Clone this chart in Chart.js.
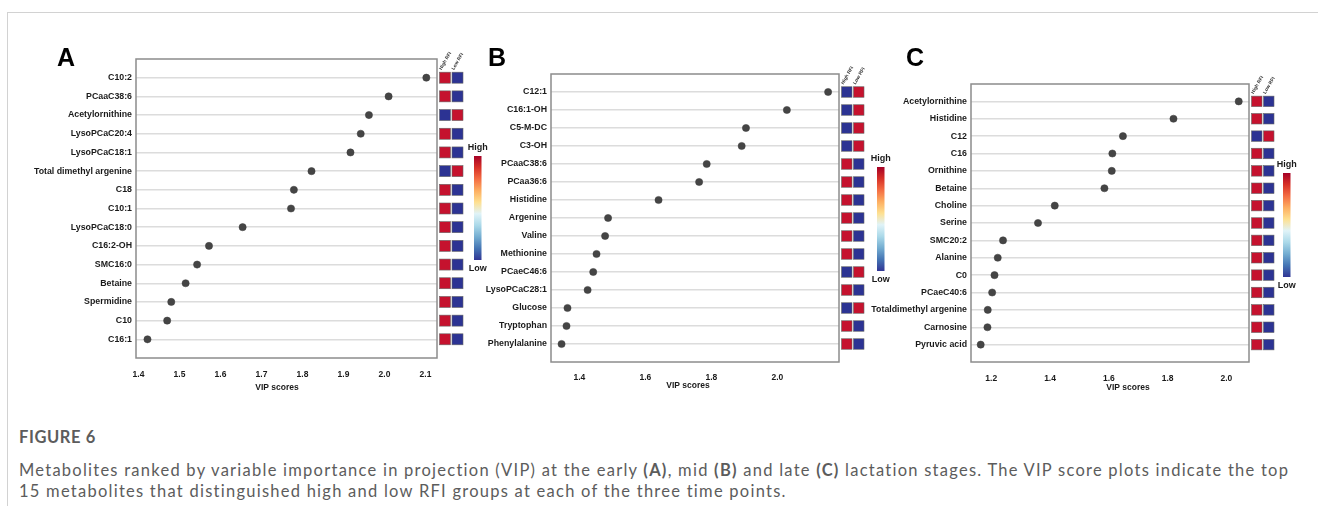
<!DOCTYPE html>
<html>
<head>
<meta charset="utf-8">
<script src="https://cdn.jsdelivr.net/npm/chart.js@4.4.0/dist/chart.umd.min.js"></script>
<style>
  body { margin: 0; background: #fff; width: 1318px; height: 506px; overflow: hidden; position: relative; }
  .frame { position: absolute; left: 7px; top: 12px; right: 0; bottom: 0;
           border-top: 1.5px solid #d2d2d2; border-left: 1.5px solid #d2d2d2; }
  canvas { position: absolute; top: 0; }
  #chartA { left: 0; }
  #chartB { left: 480px; }
  #chartC { left: 860px; }
  .caption { position: absolute; left: 19px; top: 427px; font-family: Lato, sans-serif;
             color: #5c5c5c; font-size: 16.5px; line-height: 21px; letter-spacing: 1.25px; }
  .caption .fig { font-weight: 700; font-size: 16.5px; line-height: 20px; margin-bottom: 13px; letter-spacing: 0.6px; }
  .caption b { font-weight: 700; }
</style>
</head>
<body>
<div class="frame"></div>
<canvas id="chartA" width="500" height="400"></canvas>
<canvas id="chartB" width="420" height="400"></canvas>
<canvas id="chartC" width="458" height="400"></canvas>
<div class="caption">
  <div class="fig">FIGURE 6</div>
  Metabolites ranked by variable importance in projection (VIP) at the early <b>(A)</b>, mid <b>(B)</b> and late <b>(C)</b> lactation stages. The VIP score plots indicate the top<br>
  15 metabolites that distinguished high and low RFI groups at each of the three time points.
</div>
<script>
// panel A - early lactation
const LABELS_A = ['C10:2', 'PCaaC38:6', 'Acetylornithine', 'LysoPCaC20:4', 'LysoPCaC18:1',
  'Total dimethyl argenine', 'C18', 'C10:1', 'LysoPCaC18:0', 'C16:2-OH', 'SMC16:0',
  'Betaine', 'Spermidine', 'C10', 'C16:1'];
const VIP_A = [2.102, 2.010, 1.962, 1.942, 1.917, 1.822, 1.779, 1.772, 1.654, 1.572,
  1.543, 1.515, 1.480, 1.470, 1.422];
const HIGH_RFI_A = [1, 1, 0, 1, 1, 0, 1, 1, 1, 1, 1, 1, 1, 1, 1];
const LOW_RFI_A  = [0, 0, 1, 0, 0, 1, 0, 0, 0, 0, 0, 0, 0, 0, 0];
const TICKS_A = [1.4, 1.5, 1.6, 1.7, 1.8, 1.9, 2.0, 2.1];

// panel B - mid lactation
const LABELS_B = ['C12:1', 'C16:1-OH', 'C5-M-DC', 'C3-OH', 'PCaaC38:6', 'PCaa36:6',
  'Histidine', 'Argenine', 'Valine', 'Methionine', 'PCaeC46:6', 'LysoPCaC28:1',
  'Glucose', 'Tryptophan', 'Phenylalanine'];
const VIP_B = [2.154, 2.029, 1.905, 1.892, 1.786, 1.763, 1.640, 1.487, 1.478, 1.452,
  1.442, 1.425, 1.364, 1.361, 1.346];
const HIGH_RFI_B = [0, 0, 0, 0, 1, 1, 1, 1, 1, 1, 0, 1, 0, 1, 1];
const LOW_RFI_B  = [1, 1, 1, 1, 0, 0, 0, 0, 0, 0, 1, 0, 1, 0, 0];
const TICKS_B = [1.4, 1.6, 1.8, 2.0];

// panel C - late lactation
const LABELS_C = ['Acetylornithine', 'Histidine', 'C12', 'C16', 'Ornithine', 'Betaine',
  'Choline', 'Serine', 'SMC20:2', 'Alanine', 'C0', 'PCaeC40:6',
  'Totaldimethyl argenine', 'Carnosine', 'Pyruvic acid'];
const VIP_C = [2.042, 1.820, 1.648, 1.612, 1.610, 1.585, 1.416, 1.359, 1.240, 1.222,
  1.211, 1.203, 1.188, 1.187, 1.164];
const HIGH_RFI_C = [1, 1, 0, 1, 1, 1, 1, 1, 1, 1, 1, 1, 1, 1, 1];
const LOW_RFI_C  = [0, 0, 1, 0, 0, 0, 0, 0, 0, 0, 0, 0, 0, 0, 0];
const TICKS_C = [1.2, 1.4, 1.6, 1.8, 2.0];

const GROUPS = ['High RFI', 'Low RFI'];

const RED = '#c5122e';
const BLUE = '#2c3393';
const TXT = '#1a1a1a';
const FONT = '"Liberation Sans", Arial, sans-serif';

// draws panel letter, plot frame, axis title, the High/Low RFI squares and the colour key
const panelDecor = {
  id: 'panelDecor',
  afterDatasetsDraw(chart, args, opts) {
    const { ctx, chartArea: ca } = chart;
    const y = chart.scales.y;
    ctx.save();

    // frame round plot area
    ctx.strokeStyle = '#8c8c8c';
    ctx.lineWidth = 1.5;
    ctx.strokeRect(ca.left, ca.top, ca.right - ca.left, ca.bottom - ca.top);

    // panel letter
    ctx.fillStyle = '#000';
    ctx.font = 'bold 25px ' + FONT;
    ctx.textAlign = 'left';
    ctx.textBaseline = 'alphabetic';
    ctx.fillText(opts.letter, opts.letterX, 66);

    // x axis title
    ctx.fillStyle = TXT;
    ctx.font = 'bold 8.5px ' + FONT;
    ctx.textAlign = 'center';
    ctx.textBaseline = 'middle';
    ctx.fillText('VIP scores', opts.titleX, opts.titleY);

    // heat squares
    const sz = opts.sq;
    const cols = [opts.high, opts.low];
    cols.forEach((vals, c) => {
      const x0 = ca.right + 2.5 + c * (sz + 1.5);
      vals.forEach((v, i) => {
        const yc = y.getPixelForValue(i);
        ctx.fillStyle = v ? RED : BLUE;
        ctx.fillRect(x0, yc - sz / 2, sz, sz);
        ctx.strokeStyle = '#666';
        ctx.lineWidth = 0.6;
        ctx.strokeRect(x0, yc - sz / 2, sz, sz);
      });
      // rotated group label
      const top0 = y.getPixelForValue(0) - sz / 2;
      ctx.save();
      ctx.translate(x0 + 2, top0 - 2);
      ctx.rotate(-Math.PI / 3);
      ctx.fillStyle = '#333';
      ctx.font = 'bold 4.8px ' + FONT;
      ctx.textAlign = 'left';
      ctx.textBaseline = 'alphabetic';
      ctx.fillText(GROUPS[c], 0, 0);
      ctx.restore();
    });

    // colour key
    const bx = ca.right + opts.barDx, bt = ca.top + opts.barDy, bh = 104, bw = 7.5;
    const g = ctx.createLinearGradient(0, bt, 0, bt + bh);
    const stops = ['#a50026', '#d73027', '#f46d43', '#fdae61', '#fee090',
                   '#e0f3f8', '#abd9e9', '#74add1', '#4575b4', '#313695'];
    stops.forEach((s, k) => g.addColorStop(k / (stops.length - 1), s));
    ctx.fillStyle = g;
    ctx.fillRect(bx, bt, bw, bh);
    ctx.fillStyle = TXT;
    ctx.font = 'bold 9px ' + FONT;
    ctx.textAlign = 'center';
    ctx.textBaseline = 'middle';
    ctx.fillText('High', bx + bw / 2, bt - 8);
    ctx.fillText('Low', bx + bw / 2, bt + bh + 9);

    ctx.restore();
  }
};

function makePanel(id, cfg) {
  const points = cfg.vip.map((v, i) => ({ x: v, y: i }));
  return new Chart(document.getElementById(id), {
    type: 'scatter',
    data: {
      datasets: [{
        data: points,
        backgroundColor: '#454545',
        borderColor: '#3a3a3a',
        borderWidth: 0.5,
        pointRadius: 3.6
      }]
    },
    options: {
      responsive: false,
      animation: false,
      devicePixelRatio: 1,
      layout: { padding: { left: 0, top: cfg.top, right: cfg.right, bottom: 0 } },
      plugins: {
        legend: { display: false },
        tooltip: { enabled: false },
        panelDecor: cfg.decor
      },
      scales: {
        x: {
          type: 'linear',
          min: cfg.xmin,
          max: cfg.xmax,
          afterBuildTicks: (axis) => { axis.ticks = cfg.ticks.map(v => ({ value: v })); },
          afterFit: (scale) => { scale.height = cfg.xh; },
          grid: { display: false, drawTicks: false },
          border: { display: false },
          ticks: {
            color: TXT,
            padding: cfg.tickPad,
            font: { family: FONT, size: 8.5, weight: 'bold' },
            callback: (v) => Number(v).toFixed(1)
          }
        },
        y: {
          type: 'linear',
          reverse: true,
          min: -1,
          max: 15,
          afterBuildTicks: (axis) => { axis.ticks = cfg.labels.map((_, i) => ({ value: i })); },
          afterFit: (scale) => { scale.width = cfg.yw; },
          grid: { color: '#dcdcdc', lineWidth: 1.5, drawTicks: false },
          border: { display: false },
          ticks: {
            color: TXT,
            padding: 4,
            font: { family: FONT, size: 8.8, weight: 'bold' },
            callback: (v) => cfg.labels[v]
          }
        }
      }
    },
    plugins: [panelDecor]
  });
}

makePanel('chartA', {
  labels: LABELS_A, vip: VIP_A, ticks: TICKS_A,
  xmin: 1.394, xmax: 2.128,
  yw: 136, top: 59, right: 63, xh: 42, tickPad: 12,
  decor: { letter: 'A', letterX: 57, titleX: 277, titleY: 388,
           high: HIGH_RFI_A, low: LOW_RFI_A, sq: 11, barDx: 37, barDy: 97 }
});

makePanel('chartB', {
  labels: LABELS_B, vip: VIP_B, ticks: TICKS_B,
  xmin: 1.314, xmax: 2.187,
  yw: 71, top: 74, right: 61, xh: 38, tickPad: 11,
  decor: { letter: 'B', letterX: 8, titleX: 208, titleY: 386,
           high: HIGH_RFI_B, low: LOW_RFI_B, sq: 10.5, barDx: 38, barDy: 93 }
});

makePanel('chartC', {
  labels: LABELS_C, vip: VIP_C, ticks: TICKS_C,
  xmin: 1.131, xmax: 2.077,
  yw: 111, top: 84, right: 69, xh: 38, tickPad: 12,
  decor: { letter: 'C', letterX: 46, titleX: 268, titleY: 388,
           high: HIGH_RFI_C, low: LOW_RFI_C, sq: 10.5, barDx: 34, barDy: 89 }
});
</script>
</body>
</html>
